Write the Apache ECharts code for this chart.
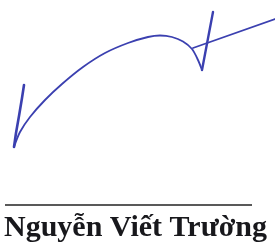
<!DOCTYPE html>
<html><head><meta charset="utf-8">
<script src="https://cdn.jsdelivr.net/npm/echarts@6/dist/echarts.min.js"></script>
<style>html,body{margin:0;padding:0;background:#fff}#c{width:275px;height:246px}</style>
</head><body><div id="c"></div>
<script>
const tickStroke = [[24,85],[22,98],[19,116],[16,133],[14,147]];
const mainCurve = [[14,147],[20,132],[30,117],[45,100],[62,84],[83,67],[105,53],[128,43],[148,37],[160,35.5],[172,37],[183,41.5],[192,49],[198,60],[202,70]];
const upStroke = [[202,70],[213,12]];
const crossStroke = [[193,48],[275,19]];
const ruleLine = [[5,205],[252,205]];
const nameText = 'Nguyễn Viết Trường';

const ink = '#3b40b0';
function stroke(data, w, smooth){
  return {type:'line', data:data, symbol:'none', smooth:smooth, lineStyle:{color:ink, width:w, cap:'round', join:'round'}, silent:true, animation:false};
}
const chart = echarts.init(document.getElementById('c'), null, {renderer:'canvas'});
chart.setOption({
  animation:false,
  backgroundColor:'#fff',
  grid:{left:0,right:0,top:0,bottom:0},
  xAxis:{type:'value',min:0,max:275,show:false},
  yAxis:{type:'value',min:0,max:246,inverse:true,show:false},
  title:{text:nameText,left:4,top:213,padding:0,textStyle:{fontFamily:'Liberation Serif',fontWeight:'bold',fontSize:30,color:'#18181c'}},
  series:[
    stroke(tickStroke,2.6,false),
    stroke(mainCurve,1.8,0.3),
    stroke(upStroke,2.4,false),
    stroke(crossStroke,1.8,false),
    {type:'line',data:ruleLine,symbol:'none',lineStyle:{color:'#222',width:1.5},silent:true}
  ]
});
</script></body></html>
